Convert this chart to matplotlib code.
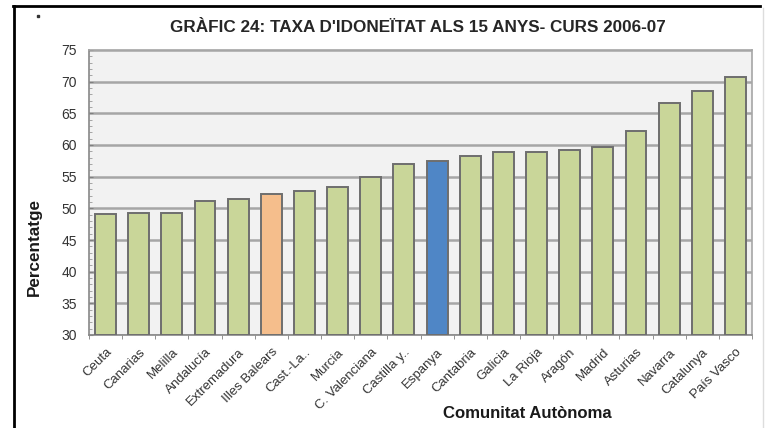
import matplotlib
matplotlib.use("Agg")
import matplotlib.pyplot as plt
from matplotlib.lines import Line2D
from matplotlib.ticker import MultipleLocator, FixedLocator
import numpy as np

plt.rcParams['font.family'] = ['Liberation Sans', 'DejaVu Sans']

categories = ["Ceuta", "Canarias", "Melilla", "Andalucía", "Extremadura", "Illes Balears",
              "Cast.-La..", "Murcia", "C. Valenciana", "Castilla y..", "Espanya", "Cantabria",
              "Galicia", "La Rioja", "Aragón", "Madrid", "Asturias", "Navarra", "Catalunya",
              "País Vasco"]
values = [49.1, 49.2, 49.2, 51.2, 51.5, 52.2, 52.8, 53.4, 55.0, 57.0, 57.4, 58.3,
          58.9, 58.9, 59.2, 59.7, 62.2, 66.7, 68.5, 70.7]
highlight = {"Illes Balears": "#f5be8c", "Espanya": "#4f86c6"}
base_color = "#c9d699"

title = "GRÀFIC 24: TAXA D'IDONEÏTAT ALS 15 ANYS- CURS 2006-07"
ylabel = "Percentatge"
xlabel = "Comunitat Autònoma"

W, H = 766, 428
fig = plt.figure(figsize=(W / 100, H / 100), dpi=100)
fig.patch.set_facecolor("white")
ax = fig.add_axes([89 / W, 1 - 335 / H, (752 - 89) / W, (335 - 50) / H])
ax.set_facecolor("#f2f2f2")

x = np.arange(len(categories))
colors = [highlight.get(c, base_color) for c in categories]
ax.bar(x, [v - 30 for v in values], bottom=30, width=0.63, color=colors,
       edgecolor="#6e6e6e", linewidth=1.4, zorder=3)

ax.set_xlim(-0.5, len(categories) - 0.5)
ax.set_ylim(30, 75)
ax.yaxis.set_major_locator(MultipleLocator(5))
ax.yaxis.set_minor_locator(MultipleLocator(1))
ax.grid(axis="y", which="major", color="#a6a6a6", linewidth=1.8, zorder=1)

ax.set_xticks(x)
ax.set_xticklabels(categories, rotation=45, ha="right", va="top",
                   rotation_mode="anchor", fontsize=9.5, color="#333333")
ax.tick_params(axis="x", which="major", length=0, pad=8)
ax.xaxis.set_minor_locator(FixedLocator(np.arange(-0.5, len(categories), 1.0)))
ax.tick_params(axis="x", which="minor", length=3, color="#808080", direction="out")
ax.tick_params(axis="y", which="major", labelsize=10, labelcolor="#333333",
               length=3, color="#808080", direction="in", pad=8.5)
ax.tick_params(axis="y", which="minor", length=2, color="#999999", direction="in")

for s in ax.spines.values():
    s.set_color("#a6a6a6")
    s.set_linewidth(1.2)
ax.spines["left"].set_color("#888888")
ax.spines["bottom"].set_color("#888888")

fig.text(417.5 / W, 1 - 28 / H, title, ha="center", va="center", fontsize=12.3,
         fontweight="bold", color="#262626")
fig.text(34 / W, 1 - 247 / H, ylabel, ha="center", va="center", rotation=90,
         fontsize=12.3, fontweight="bold", color="#1a1a1a")
fig.text(527 / W, 1 - 413 / H, xlabel, ha="center", va="center",
         fontsize=12.1, fontweight="bold", color="#1a1a1a")

# outer frame lines
fig.add_artist(Line2D([13 / W, 760 / W], [1 - 6 / H, 1 - 6 / H], color="black", linewidth=2))
fig.add_artist(Line2D([14 / W, 14 / W], [1 - 6 / H, 0], color="black", linewidth=2))
fig.add_artist(Line2D([763 / W, 763 / W], [1 - 8 / H, 0], color="#dddddd", linewidth=1))
fig.add_artist(Line2D([38 / W], [1 - 16 / H], marker="s", markersize=1.5, color="#333333"))

fig.savefig("out.png", dpi=100)
